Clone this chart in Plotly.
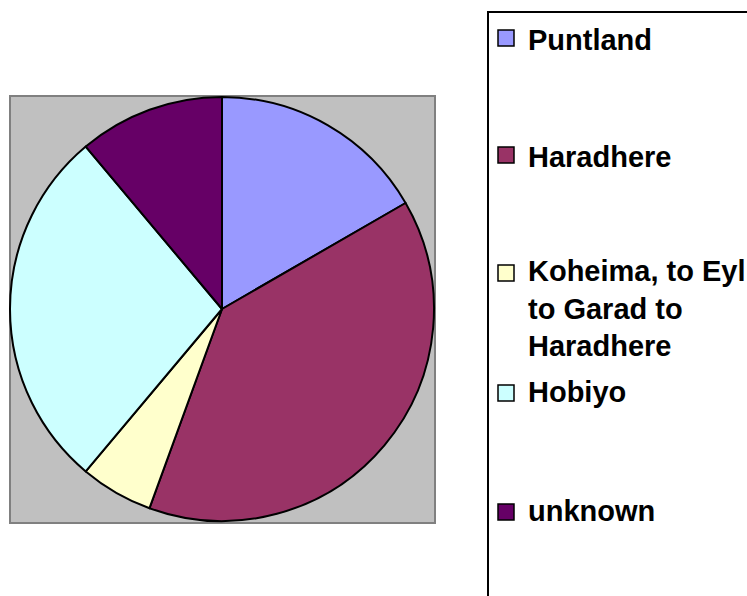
import plotly.graph_objects as go

W, H = 747, 596

labels = ["Puntland", "Haradhere", "Koheima, to Eyl to Garad to Haradhere", "Hobiyo", "unknown"]
legend_text = ["Puntland", "Haradhere", "Koheima, to Eyl<br>to Garad to<br>Haradhere", "Hobiyo", "unknown"]
values = [6, 14, 2, 10, 4]
colors = ["#9999FF", "#993366", "#FFFFCC", "#CCFFFF", "#660066"]

# layout positions (pixels)
swatch_y = [38, 155, 273, 393, 512]
text_y = [40, 157, 309, 392, 511]


def px(x):
    return x / W


def py(y):
    return 1 - y / H


fig = go.Figure()
fig.add_trace(go.Pie(
    labels=labels,
    values=values,
    marker=dict(colors=colors, line=dict(color="#000000", width=2)),
    sort=False,
    direction="clockwise",
    rotation=0,
    textinfo="none",
    hoverinfo="label+value+percent",
    showlegend=False,
    domain=dict(x=[px(10), px(434)], y=[py(521), py(97)]),
))

shapes = [
    # plot area background
    dict(type="rect", xref="paper", yref="paper",
         x0=px(10), x1=px(435), y0=py(523), y1=py(96),
         fillcolor="#C0C0C0", line=dict(color="#808080", width=2), layer="below"),
    # legend box (extends beyond the page)
    dict(type="rect", xref="paper", yref="paper",
         x0=px(488), x1=px(800), y0=py(650), y1=py(12),
         fillcolor="rgba(255,255,255,0)", line=dict(color="#000000", width=2), layer="above"),
]
annotations = []
for name, col, ys, yt in zip(legend_text, colors, swatch_y, text_y):
    shapes.append(dict(type="rect", xref="paper", yref="paper",
                       x0=px(498), x1=px(514), y0=py(ys + 8), y1=py(ys - 8),
                       fillcolor=col, line=dict(color="#000000", width=1.5)))
    annotations.append(dict(xref="paper", yref="paper", x=px(526), y=py(yt),
                            xanchor="left", yanchor="middle", align="left",
                            showarrow=False, text="<b>" + name + "</b>",
                            font=dict(family="Arial, Liberation Sans, sans-serif",
                                      size=29, color="#000000")))

fig.update_layout(
    width=W, height=H,
    margin=dict(l=0, r=0, t=0, b=0),
    paper_bgcolor="#FFFFFF",
    plot_bgcolor="#FFFFFF",
    shapes=shapes,
    annotations=annotations,
)

fig.write_html(
    "out.html",
    config={"displayModeBar": False},
    post_script="document.body.style.margin='0';document.body.style.overflow='hidden';",
)
